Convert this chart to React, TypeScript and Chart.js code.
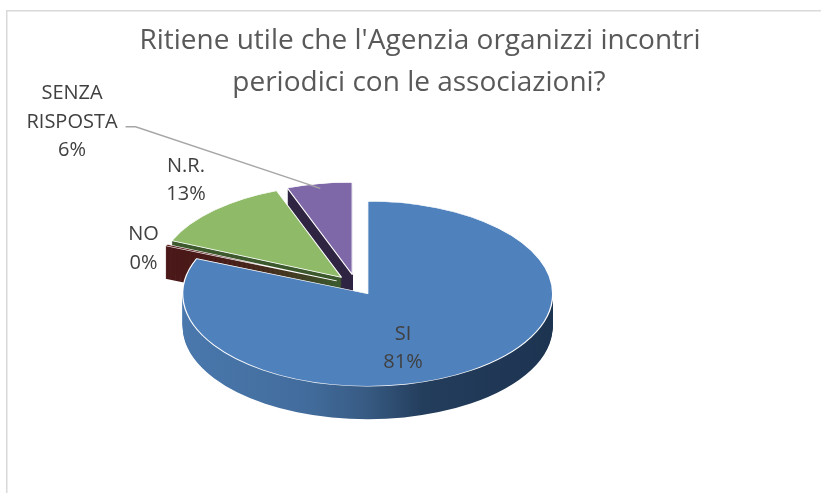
import React, { useEffect, useRef } from 'react';
import { Chart, registerables, ArcElement } from 'chart.js';

Chart.register(...registerables);

// ---- data ----
const categories = ['SI', 'NO', 'N.R.', 'SENZA RISPOSTA'];
const labelLines = [['SI'], ['NO'], ['N.R.'], ['SENZA', 'RISPOSTA']];
const values = [81.2, 0.3, 12.8, 5.7];
const titleLines = ["Ritiene utile che l'Agenzia organizzi incontri", 'periodici con le associazioni?'];

// ---- styles ----
const topColors = ['#4f81bd', '#5a1d1d', '#8fbb68', '#7f68a8'];
const sideColors = ['', '#4b1919', '#3d5a2e', '#2f2543'];
const siSideStops: [number, string][] = [
  [0, '#4a78ad'],
  [0.35, '#416b9b'],
  [0.5, '#375a82'],
  [0.65, '#233d5c'],
  [1, '#1d3451'],
];
const TILT = 0.5;
const DEPTH = 33;
const EXPLODE = 21;
const RADIUS = 185;
// label anchors (first-line baseline) relative to pie centre, in units of radius
const labelAnchors: [number, number][] = [
  [0.254, 0.297],
  [-1.149, -0.243],
  [-0.919, -0.612],
  [-1.535, -1.004],
];
const LINE_H = 28.5;

function pct(i: number) {
  const total = values.reduce((a, b) => a + b, 0);
  return Math.round((values[i] / total) * 100) + '%';
}

function setTransform(ctx: CanvasRenderingContext2D, arc: any, k: number) {
  const mid = (arc.startAngle + arc.endAngle) / 2;
  const cx = arc.x, cy = arc.y;
  ctx.translate(cx + Math.cos(mid) * EXPLODE, cy + Math.sin(mid) * EXPLODE * TILT + k);
  ctx.scale(1, TILT);
  ctx.translate(-cx, -cy);
}

function drawArcWith(ctx: CanvasRenderingContext2D, arc: any, overrides: any) {
  const proxy = Object.create(arc);
  proxy.options = Object.assign({}, arc.options, overrides);
  ArcElement.prototype.draw.call(proxy, ctx);
}

const pie3d = {
  id: 'pie3d',
  beforeDraw(chart: any) {
    const ctx = chart.ctx as CanvasRenderingContext2D;
    ctx.save();
    ctx.fillStyle = '#ffffff';
    ctx.fillRect(0, 0, chart.width, chart.height);
    ctx.strokeStyle = '#d9d9d9';
    ctx.lineWidth = 1.5;
    ctx.strokeRect(6.75, 10.75, 2000, 2000);
    ctx.restore();
  },
  beforeDatasetsDraw(chart: any) {
    const ctx = chart.ctx as CanvasRenderingContext2D;
    const arcs = chart.getDatasetMeta(0).data as any[];
    // side walls: stacked layers
    for (let k = DEPTH; k >= 1; k--) {
      arcs.forEach((arc, i) => {
        if (!(arc.endAngle > arc.startAngle)) return;
        ctx.save();
        setTransform(ctx, arc, k);
        let fill: any = sideColors[i];
        if (i === 0) {
          const g = ctx.createLinearGradient(arc.x - RADIUS, 0, arc.x + RADIUS, 0);
          siSideStops.forEach(([p, c]) => g.addColorStop(p, c));
          fill = g;
        }
        drawArcWith(ctx, arc, { backgroundColor: fill, borderWidth: 0 });
        ctx.restore();
      });
    }
    // top faces
    arcs.forEach((arc) => {
      if (!(arc.endAngle > arc.startAngle)) return;
      ctx.save();
      setTransform(ctx, arc, 0);
      arc.draw(ctx);
      ctx.restore();
    });
    return false;
  },
  afterDraw(chart: any) {
    const ctx = chart.ctx as CanvasRenderingContext2D;
    const arcs = chart.getDatasetMeta(0).data as any[];
    const cx = arcs[0].x, cy = arcs[0].y;
    ctx.save();
    // title
    ctx.fillStyle = '#595959';
    ctx.font = '28px "Open Sans"';
    ctx.textAlign = 'center';
    ctx.textBaseline = 'alphabetic';
    ctx.fillText(titleLines[0], 420, 48.5);
    ctx.fillText(titleLines[1], 419, 91);
    // data labels
    ctx.font = '20px "Open Sans"';
    ctx.fillStyle = '#404040';
    arcs.forEach((arc, i) => {
      const [ax, ay] = labelAnchors[i];
      const x = cx + ax * RADIUS;
      const y = cy + ay * RADIUS;
      const lines = [...labelLines[i], pct(i)];
      lines.forEach((t, j) => ctx.fillText(t, x, y + j * LINE_H));
    });
    // leader line for the last slice
    const last = arcs.length - 1;
    const arc = arcs[last];
    const [ax, ay] = labelAnchors[last];
    const lx = cx + ax * RADIUS;
    const ly = cy + ay * RADIUS + LINE_H;
    const w = ctx.measureText(labelLines[last][1]).width;
    const mid = (arc.startAngle + arc.endAngle) / 2;
    const ex = cx + Math.cos(mid) * (EXPLODE + RADIUS * 0.97);
    const ey = cy + Math.sin(mid) * (EXPLODE + RADIUS * 0.97) * TILT + 2;
    ctx.strokeStyle = '#a6a6a6';
    ctx.lineWidth = 1.3;
    ctx.beginPath();
    ctx.moveTo(lx + w / 2 + 8, ly - 1);
    ctx.lineTo(lx + w / 2 + 18, ly - 1);
    ctx.lineTo(ex, ey);
    ctx.stroke();
    ctx.restore();
  },
};

export default function App() {
  const ref = useRef<HTMLCanvasElement>(null);
  useEffect(() => {
    const canvas = ref.current!;
    const chart = new Chart(canvas, {
      type: 'pie',
      data: {
        labels: categories,
        datasets: [
          {
            data: values,
            backgroundColor: topColors,
            borderColor: '#ffffff',
            borderWidth: 1.3,
            radius: RADIUS,
            offset: 0,
            hoverOffset: 0,
          } as any,
        ],
      },
      options: {
        responsive: false,
        devicePixelRatio: 1,
        animation: false,
        events: [],
        layout: { padding: { top: 77, left: 0, right: 109, bottom: 0 } },
        plugins: {
          legend: { display: false },
          title: { display: false },
          tooltip: { enabled: false },
        },
      } as any,
      plugins: [pie3d as any],
    });
    return () => chart.destroy();
  }, []);
  return (
    <div style={{ position: 'fixed', left: 0, top: 0, width: 821, height: 493, background: '#fff', overflow: 'hidden' }}>
      <canvas ref={ref} width={821} height={493} style={{ display: 'block' }} />
    </div>
  );
}
